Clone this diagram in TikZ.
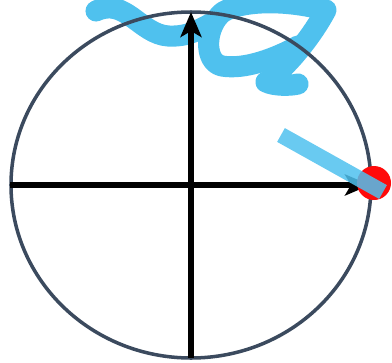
\documentclass[tikz,border=0pt]{standalone}
\usepackage{xcolor}
\definecolor{rimgray}{HTML}{3B4A5E}
\definecolor{inkblue}{HTML}{4FC1EE}
\definecolor{dotred}{HTML}{FF0A0A}
\usetikzlibrary{arrows.meta}

\begin{document}
\begin{tikzpicture}[
  x=0.02cm, y=-0.02cm,
  rim/.style={draw=rimgray, line width=2pt},
  axis/.style={line width=3.2pt, black,
               -{Stealth[length=0.5cm, width=0.42cm, inset=0.12cm]}},
  ink/.style={draw=inkblue, line width=12pt, line cap=round, line join=round},
  marker/.style={draw=inkblue, opacity=0.85, line width=9pt}
]
  \useasboundingbox (0,0) rectangle (392,362);

  \coordinate (O) at (191,185);
  \coordinate (west) at (10,185);
  \coordinate (east) at (370,185);
  \coordinate (south) at (191,358);
  \coordinate (north) at (191,12);
  \coordinate (pt) at (374,183);

  % handwritten letter
  \draw[ink] (96,11) .. controls (125,-3) and (140,34) .. (168,36)
                     .. controls (188,37) and (198,30) .. (210,24);
  \draw[ink] (324,10) .. controls (292,1) and (245,-1) .. (223,12)
                      .. controls (205,26) and (203,62) .. (222,66)
                      .. controls (245,70) and (276,58) .. (298,46);
  \draw[ink] (326,10) .. controls (310,40) and (284,70) .. (266,82)
                      .. controls (274,86) and (290,86) .. (298,84);

  \draw[rim] (O) ellipse [x radius=180, y radius=173];

  \draw[axis] (west) -- (east);
  \draw[axis] (south) -- (north);

  \fill[dotred] (pt) circle (17);
  \draw[marker] (281,135) -- (383,192);
\end{tikzpicture}
\end{document}
